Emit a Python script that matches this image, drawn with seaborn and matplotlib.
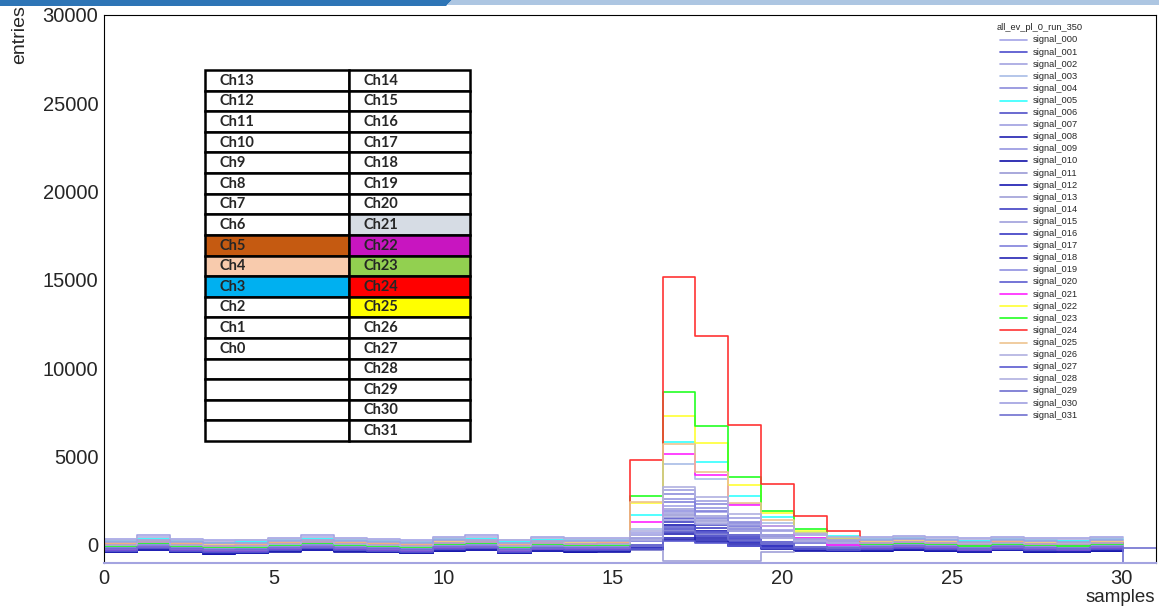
import numpy as np
import pandas as pd
import matplotlib
matplotlib.use("Agg")
import matplotlib.pyplot as plt
import seaborn as sns
from matplotlib.lines import Line2D
from matplotlib.patches import Rectangle, Polygon
from matplotlib.ticker import MultipleLocator

# entries per sample bin for each channel (bins 0..30)
s000 = [350, 560, 350, 260, 300, 400, 560, 400, 350, 290, 440, 560, 300, 420, 390, 400, 650, 2200, 1840, 1250, 820, 560, 450, 440, 500, 430, 360, 460, 380, 360, 440]
s001 = [-390, -260, -390, -480, -440, -340, -260, -340, -390, -450, -300, -260, -440, -320, -350, -340, -170, 900, 650, 250, -60, -230, -310, -300, -240, -310, -380, -280, -360, -380, -300]
s002 = [-10, 120, -10, -100, -60, 40, 120, 40, -10, -70, 80, 120, -60, 60, 30, 40, 290, 1800, 1440, 870, 450, 200, 90, 80, 140, 70, 0, 100, 20, 0, 80]
s003 = [190, 320, 190, 100, 140, 240, 320, 240, 190, 130, 280, 320, 140, 260, 230, 240, 870, 4570, 3700, 2310, 1260, 660, 390, 280, 340, 270, 200, 300, 220, 200, 280]
s004 = [-180, -50, -180, -270, -230, -130, -50, -130, -180, -240, -90, -50, -230, -110, -140, -130, 310, 2900, 2290, 1310, 580, 160, -30, -90, -30, -100, -170, -70, -150, -170, -90]
s005 = [220, 350, 220, 130, 170, 270, 350, 270, 220, 160, 310, 350, 170, 290, 260, 270, 1700, 5830, 4700, 2790, 1550, 700, 510, 310, 370, 300, 230, 330, 250, 230, 310]
s006 = [-310, -180, -310, -400, -360, -260, -180, -260, -310, -370, -220, -180, -360, -240, -270, -260, -10, 1500, 1140, 570, 150, -100, -210, -220, -160, -230, -300, -200, -280, -300, -220]
s007 = [50, 180, 50, -40, 0, 100, 180, 100, 50, -10, 140, 180, 0, 120, 90, 100, 530, 3100, 2500, 1530, 800, 380, 200, 140, 200, 130, 60, 160, 80, 60, 140]
s008 = [-420, -290, -420, -510, -470, -370, -290, -370, -420, -480, -330, -290, -470, -350, -380, -370, -240, 600, 400, 90, -150, -290, -350, -330, -270, -340, -410, -310, -390, -410, -330]
s009 = [-150, -20, -150, -240, -200, -100, -20, -100, -150, -210, -60, -20, -200, -80, -110, -100, 290, 2600, 2060, 1190, 530, 150, -10, -60, 0, -70, -140, -40, -120, -140, -60]
s010 = [-430, -300, -430, -520, -480, -380, -300, -380, -430, -490, -340, -300, -480, -360, -390, -380, -300, 300, 160, -60, -230, -330, -370, -340, -280, -350, -420, -320, -400, -420, -340]
s011 = [-70, 60, -70, -160, -120, -20, 60, -20, -70, -130, 20, 60, -120, 0, -30, -20, 220, 1700, 1350, 800, 380, 130, 30, 20, 80, 10, -60, 40, -40, -60, 20]
s012 = [-410, -280, -410, -500, -460, -360, -280, -360, -410, -470, -320, -280, -460, -340, -370, -360, -160, 1100, 800, 330, -30, -230, -320, -320, -260, -330, -400, -300, -380, -400, -320]
s013 = [-110, 20, -110, -200, -160, -60, 20, -60, -110, -170, -20, 20, -160, -40, -70, -60, -300, -900, -900, -900, -380, -150, -100, -20, 40, -30, -100, 0, -80, -100, -20]
s014 = [-350, -220, -350, -440, -400, -300, -220, -300, -350, -410, -260, -220, -400, -280, -310, -300, -80, 1300, 980, 460, 70, -160, -260, -260, -200, -270, -340, -240, -320, -340, -260]
s015 = [70, 200, 70, -20, 20, 120, 200, 120, 70, 10, 160, 200, 20, 140, 110, 120, 390, 2000, 1620, 1010, 560, 290, 180, 160, 220, 150, 80, 180, 100, 80, 160]
s016 = [-370, -240, -370, -460, -420, -320, -240, -320, -370, -430, -280, -240, -420, -300, -330, -320, -180, 700, 490, 160, -90, -240, -300, -280, -220, -290, -360, -260, -340, -360, -280]
s017 = [-200, -70, -200, -290, -250, -150, -70, -150, -200, -260, -110, -70, -250, -130, -160, -150, 220, 2400, 1890, 1060, 450, 90, -70, -110, -50, -120, -190, -90, -170, -190, -110]
s018 = [-400, -270, -400, -490, -450, -350, -270, -350, -400, -460, -310, -270, -450, -330, -360, -350, -250, 400, 250, 0, -190, -290, -340, -310, -250, -320, -390, -290, -370, -390, -310]
s019 = [-90, 40, -90, -180, -140, -40, 40, -40, -90, -150, 0, 40, -140, -20, -50, -40, 230, 1900, 1510, 880, 410, 140, 20, 0, 60, -10, -80, 20, -60, -80, 0]
s020 = [-260, -130, -260, -350, -310, -210, -130, -210, -260, -320, -170, -130, -310, -190, -220, -210, -50, 1000, 750, 360, 70, -110, -180, -170, -110, -180, -250, -150, -230, -250, -170]
s021 = [-280, -150, -280, -370, -330, -230, -150, -230, -280, -340, -190, -150, -330, -210, -240, -230, 1280, 5150, 3960, 2260, 1040, 400, 0, -190, -130, -200, -270, -170, -250, -270, -190]
s022 = [90, 220, 90, 0, 40, 140, 220, 140, 90, 30, 180, 220, 40, 160, 130, 140, 2360, 7300, 5790, 3360, 1800, 800, 400, 180, 240, 170, 100, 200, 120, 100, 180]
s023 = [-50, 80, -50, -140, -100, 0, 80, 0, -50, -110, 40, 80, -100, 20, -10, 0, 2770, 8660, 6750, 3850, 1940, 900, 320, 40, 100, 30, -40, 60, -20, -40, 40]
s024 = [30, 160, 30, -60, -20, 80, 160, 80, 30, -30, 120, 160, -20, 100, 70, 80, 4810, 15150, 11850, 6790, 3430, 1640, 810, 120, 180, 110, 40, 140, 60, 40, 120]
s025 = [120, 250, 120, 30, 70, 170, 250, 170, 120, 60, 210, 250, 70, 190, 160, 170, 2420, 5720, 4150, 2370, 1420, 650, 350, 210, 270, 200, 130, 230, 150, 130, 210]
s026 = [300, 430, 300, 210, 250, 350, 470, 350, 300, 240, 390, 430, 250, 370, 340, 350, 780, 3300, 2710, 1760, 1040, 630, 450, 390, 450, 380, 310, 410, 330, 310, 390]
s027 = [-330, -200, -330, -420, -380, -280, -200, -280, -330, -390, -240, -200, -380, -260, -290, -280, -220, 200, 100, -60, -180, -250, -280, -240, -180, -250, -320, -220, -300, -320, -240]
s028 = [10, 140, 10, -80, -40, 60, 140, 60, 10, -50, 100, 140, -40, 80, 50, 60, 270, 1600, 1290, 790, 410, 200, 100, 100, 160, 90, 20, 120, 40, 20, 100]
s029 = [-230, -100, -230, -320, -280, -180, -100, -180, -230, -290, -140, -100, -280, -160, -190, -180, -50, 800, 600, 280, 40, -100, -160, -140, -80, -150, -220, -120, -200, -220, -140]
s030 = [170, 300, 170, 80, 120, 220, 300, 220, 170, 110, 260, 300, 120, 240, 210, 220, 380, 1400, 1160, 780, 490, 320, 250, 260, 320, 250, 180, 280, 200, 180, 260]
# signal_031 sits below the frame except for the very last bin
s031 = [-1100, -1100, -1100, -1100, -1100, -1100, -1100, -1100, -1100, -1100, -1100, -1100, -1100, -1100, -1100, -1100,
        -1100, -1100, -1100, -1100, -1100, -1100, -1100, -1100, -1100, -1100, -1100, -1100, -1100, -1100, -1100, -200]

signals = [s000, s001, s002, s003, s004, s005, s006, s007, s008, s009, s010, s011, s012, s013, s014, s015,
           s016, s017, s018, s019, s020, s021, s022, s023, s024, s025, s026, s027, s028, s029, s030, s031]
signal_names = ["signal_%03d" % i for i in range(32)]
signal_colors = ["#a3a3e6", "#4d4dcc", "#a3a3e0", "#a8bce6", "#8c8cdc", "#33ffff", "#5050c8", "#a0a0e0",
                 "#2020b0", "#9696e0", "#1010a8", "#9a9ad6", "#1818b0", "#a0a0d8", "#4040c4", "#a0a0dc",
                 "#3a3ac4", "#8080dc", "#2424b4", "#9090e0", "#5c5cd0", "#ff22ff", "#ffff33", "#22ff22",
                 "#ff3333", "#eec38f", "#b0b0e0", "#5a5ad0", "#b0b0e0", "#7070d0", "#a0a0e0", "#7070d0"]
legend_title = "all_ev_pl_0_run_350"

# channel map table pasted on the plot
left_cells = ["Ch13", "Ch12", "Ch11", "Ch10", "Ch9", "Ch8", "Ch7", "Ch6", "Ch5", "Ch4", "Ch3", "Ch2", "Ch1", "Ch0", "", "", "", ""]
right_cells = ["Ch14", "Ch15", "Ch16", "Ch17", "Ch18", "Ch19", "Ch20", "Ch21", "Ch22", "Ch23", "Ch24", "Ch25", "Ch26", "Ch27", "Ch28", "Ch29", "Ch30", "Ch31"]
left_fill = ["white"] * 8 + ["#c55a11", "#f8cbad", "#00b0f0"] + ["white"] * 7
right_fill = ["white"] * 7 + ["#d6dce4", "#c815c0", "#92d050", "#ff0000", "#ffff00"] + ["white"] * 6

W, H = 1159, 606
n_bins = 32
edges = np.linspace(0, 31, n_bins + 1)
centers = (edges[:-1] + edges[1:]) / 2

sns.set_style("white")
plt.rcParams["font.family"] = ["Liberation Sans", "DejaVu Sans"]

fig = plt.figure(figsize=(W / 100, H / 100), dpi=100)
ax = fig.add_axes([104 / W, 1 - 563 / H, 1051.5 / W, 548 / H])

# top slide banner
fig.add_artist(Polygon([[0, 1], [452 / W, 1], [446 / W, 1 - 6 / H], [0, 1 - 6 / H]],
                       closed=True, transform=fig.transFigure, facecolor="#2e75b6", edgecolor="none"))
fig.add_artist(Polygon([[452 / W, 1], [1, 1], [1, 1 - 5 / H], [447 / W, 1 - 5 / H]],
                       closed=True, transform=fig.transFigure, facecolor="#adc6e2", edgecolor="none"))

rows = []
for name, vals in zip(signal_names[:31], signals[:31]):
    for x, v in zip(centers[:31], vals):
        rows.append((name, x, v))
df = pd.DataFrame(rows, columns=["signal", "sample", "entries"])

# seaborn draws hue levels back to front, so reverse to get 000 first like ROOT
sns.histplot(data=df, x="sample", weights="entries", hue="signal", hue_order=signal_names[:31][::-1],
             palette=dict(zip(signal_names, signal_colors)), bins=31, binrange=(0, edges[31]),
             element="step", fill=False, linewidth=1.2, legend=False, ax=ax)
sns.histplot(x=centers, weights=s031, bins=n_bins, binrange=(0, 31), element="step", fill=False,
             color=signal_colors[31], linewidth=1.2, ax=ax)

ax.set_xlim(0, 31)
ax.set_ylim(-1030, 30000)
ax.set_xlabel("")
ax.set_ylabel("")
ax.xaxis.set_major_locator(MultipleLocator(5))
ax.xaxis.set_minor_locator(MultipleLocator(1))
ax.yaxis.set_major_locator(MultipleLocator(5000))
ax.yaxis.set_minor_locator(MultipleLocator(1000))
ax.tick_params(axis="both", which="both", direction="in", color="#555555", width=1, labelsize=14.5)
ax.tick_params(axis="y", which="major", length=22, pad=4)
ax.tick_params(axis="y", which="minor", length=11)
ax.tick_params(axis="x", which="major", length=12, pad=4)
ax.tick_params(axis="x", which="minor", length=6)
for side in ["left", "top", "right"]:
    ax.spines[side].set_color("black")
    ax.spines[side].set_linewidth(0.8)
ax.spines["bottom"].set_color("#a4a4e0")
ax.spines["bottom"].set_linewidth(1.5)

fig.text(20 / W, 1 - 5 / H, "entries", rotation=90, ha="center", va="top", fontsize=14)
fig.text(1155 / W, 1 - 597 / H, "samples", ha="right", va="center", fontsize=13.5)

# legend, ROOT style
fig.text(997 / W, 1 - 28 / H, legend_title, fontsize=6.7, ha="left", va="center")
for i, (name, col) in enumerate(zip(signal_names, signal_colors)):
    y = 1 - (40 + 12.1 * i) / H
    fig.add_artist(Line2D([1000 / W, 1027 / W], [y, y], color=col, lw=1.2, transform=fig.transFigure))
    fig.text(1033 / W, y, name, fontsize=6.7, ha="left", va="center")

# channel table
tab = fig.add_axes([205 / W, 1 - 441 / H, 265 / W, 371 / H])
tab.set_xlim(0, 265)
tab.set_ylim(len(left_cells), 0)
tab.axis("off")
col_x = [0, 144]
col_w = [144, 121]
for c, (labels, fills) in enumerate([(left_cells, left_fill), (right_cells, right_fill)]):
    for r in range(len(labels)):
        tab.add_patch(Rectangle((col_x[c], r), col_w[c], 1, facecolor=fills[r], edgecolor="black",
                                lw=1.8, clip_on=False))
        tab.text(col_x[c] + 15, r + 0.52, labels[r], ha="left", va="center", fontsize=10.5,
                 fontweight="bold", family=["Lato", "DejaVu Sans"])

fig.savefig("out.png", dpi=100)
